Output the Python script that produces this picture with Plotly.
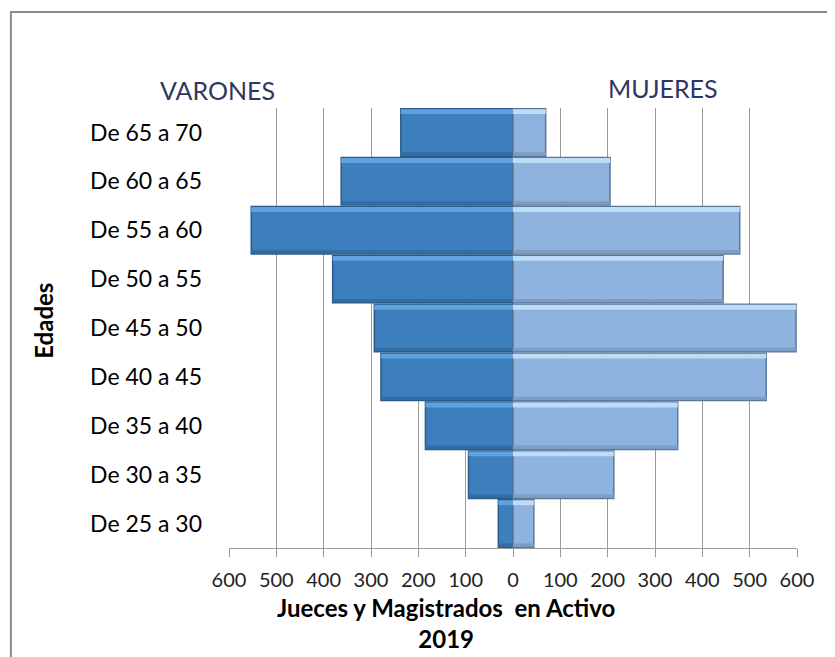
import plotly.graph_objects as go

edades = ["De 25 a 30", "De 30 a 35", "De 35 a 40", "De 40 a 45", "De 45 a 50",
          "De 50 a 55", "De 55 a 60", "De 60 a 65", "De 65 a 70"]
varones = [31, 94, 185, 279, 293, 381, 553, 363, 237]
mujeres = [44, 213, 348, 535, 598, 444, 479, 205, 69]

ticks = [-600, -500, -400, -300, -200, -100, 0, 100, 200, 300, 400, 500, 600]
tick_text = [str(abs(t)) for t in ticks]

FONT = "Lato, 'Open Sans', sans-serif"
x_var = [-v for v in varones]

fig = go.Figure()
# main bars
fig.add_trace(go.Bar(y=edades, x=x_var, orientation="h",
                     width=0.97, offset=-0.485,
                     marker=dict(color="#3D7EBC", line=dict(color="#2A5A88", width=1.5))))
fig.add_trace(go.Bar(y=edades, x=mujeres, orientation="h",
                     width=0.97, offset=-0.485,
                     marker=dict(color="#8EB3DF", line=dict(color="#5E7796", width=1.5))))
# bevel: light strip on top, darker strip at the bottom
fig.add_trace(go.Bar(y=edades, x=x_var, orientation="h",
                     width=0.1, offset=0.375,
                     marker=dict(color="#5EA3E0", line=dict(width=0))))
fig.add_trace(go.Bar(y=edades, x=mujeres, orientation="h",
                     width=0.1, offset=0.375,
                     marker=dict(color="#BCDCF8", line=dict(width=0))))
fig.add_trace(go.Bar(y=edades, x=x_var, orientation="h",
                     width=0.07, offset=-0.475,
                     marker=dict(color="#336CA3", line=dict(width=0))))
fig.add_trace(go.Bar(y=edades, x=mujeres, orientation="h",
                     width=0.07, offset=-0.475,
                     marker=dict(color="#7C9DC4", line=dict(width=0))))

fig.update_layout(
    width=835, height=657,
    barmode="overlay",
    showlegend=False,
    plot_bgcolor="white", paper_bgcolor="white",
    font=dict(family=FONT, color="black"),
    margin=dict(l=221, r=46, t=100, b=117),
)
fig.update_xaxes(
    range=[-600, 600], tickvals=ticks, ticktext=tick_text,
    showgrid=True, gridcolor="#9a9a9a", gridwidth=1,
    zeroline=True, zerolinecolor="#7a7a7a", zerolinewidth=1.5,
    showline=True, linecolor="#9a9a9a", linewidth=1,
    ticks="outside", ticklen=8, tickcolor="#9a9a9a",
    tickfont=dict(size=20, color="#222"), ticklabelstandoff=6,
)
fig.update_yaxes(
    type="category", categoryorder="array", categoryarray=edades,
    range=[-0.5, 8.5],
    showgrid=False, showline=False, ticks="",
    tickfont=dict(size=23, color="black"), ticklabelstandoff=26,
)

fig.add_annotation(text="VARONES", xref="paper", yref="paper", x=-0.021, y=1.0795,
                   xanchor="center", showarrow=False,
                   font=dict(size=25, color="#2E3763"))
fig.add_annotation(text="MUJERES", xref="paper", yref="paper", x=0.764, y=1.085,
                   xanchor="center", showarrow=False,
                   font=dict(size=25, color="#2E3763"))
fig.add_annotation(text="<b>Jueces y Magistrados  en Activo</b><br><b>2019</b>",
                   xref="paper", yref="paper", x=0.382, y=-0.170,
                   xanchor="center", yanchor="middle", showarrow=False,
                   font=dict(size=24, color="black"))
fig.add_annotation(text="<b>Edades</b>", xref="paper", yref="paper", x=-0.326, y=0.516,
                   xanchor="center", textangle=-90, showarrow=False,
                   font=dict(size=24, color="black"))

fig.add_shape(type="rect", xref="paper", yref="paper",
              x0=-0.384, x1=1.1, y0=-0.3, y1=1.218,
              line=dict(color="#8a8a8a", width=2), layer="below")

fig.write_html("out.html")
